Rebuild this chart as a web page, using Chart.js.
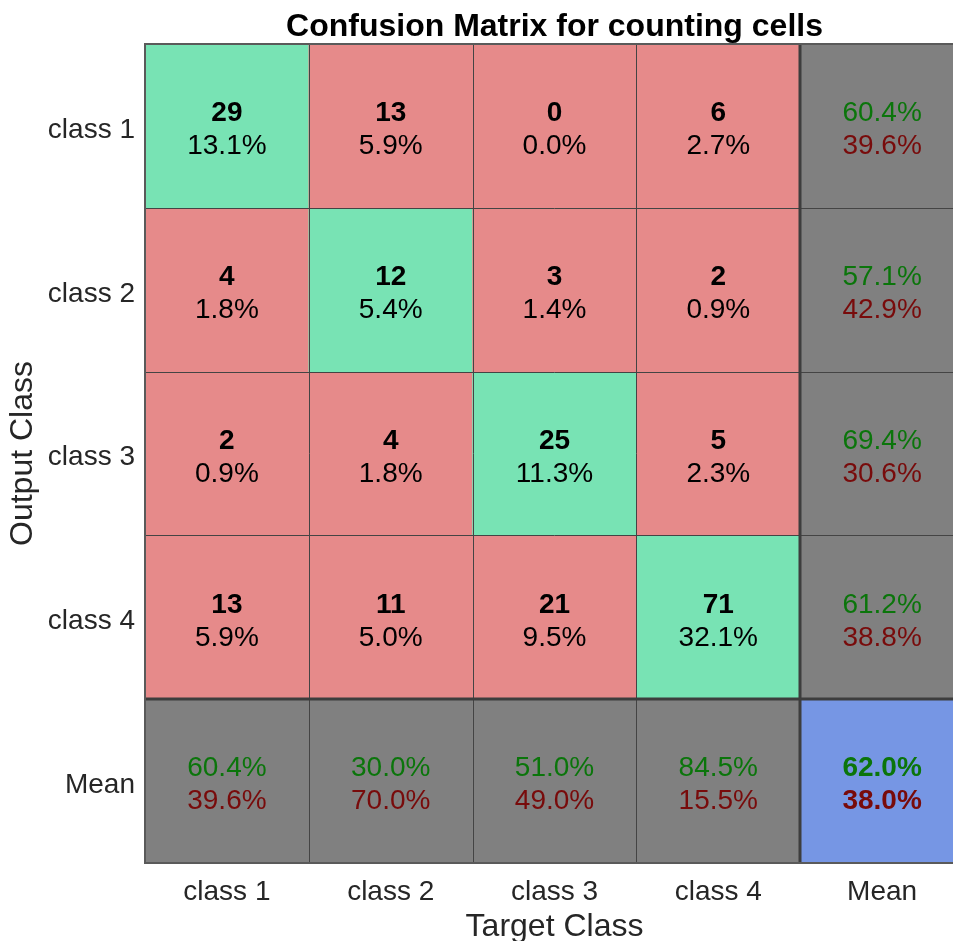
<!DOCTYPE html>
<html>
<head>
<meta charset="utf-8">
<script src="https://cdn.jsdelivr.net/npm/chart.js@4/dist/chart.umd.min.js"></script>
<style>
  html, body { margin: 0; padding: 0; background: #fff; overflow: hidden; }
  #wrap { width: 953px; height: 941px; overflow: hidden; position: relative; }
  canvas { display: block; }
</style>
</head>
<body>
<div id="wrap"><canvas id="c" width="985" height="941"></canvas></div>
<script>
// ---- data ----
const colLabels = ['class 1', 'class 2', 'class 3', 'class 4', 'Mean'];
const rowLabels = ['class 1', 'class 2', 'class 3', 'class 4', 'Mean'];
const counts = [
  [29, 13, 0, 6],
  [4, 12, 3, 2],
  [2, 4, 25, 5],
  [13, 11, 21, 71]
];
const cellPercents = [
  [13.1, 5.9, 0.0, 2.7],
  [1.8, 5.4, 1.4, 0.9],
  [0.9, 1.8, 11.3, 2.3],
  [5.9, 5.0, 9.5, 32.1]
];
const rowCorrect = [60.4, 57.1, 69.4, 61.2];
const rowWrong = [39.6, 42.9, 30.6, 38.8];
const colCorrect = [60.4, 30.0, 51.0, 84.5];
const colWrong = [39.6, 70.0, 49.0, 15.5];
const meanCorrect = [62.0];
const meanWrong = [38.0];

// ---- styles ----
const FONT = "'Liberation Sans', Arial, Helvetica, sans-serif";
const C_GREEN = '#78e3b4', C_RED = '#e68a8a', C_GRAY = '#808080', C_BLUE = '#7696e4';
const T_GOOD = '#0b750b', T_BAD = '#780b0b';
const n = colLabels.length;

function cellColor(r, c) {
  if (r === n - 1 && c === n - 1) return C_BLUE;
  if (r === n - 1 || c === n - 1) return C_GRAY;
  return r === c ? C_GREEN : C_RED;
}

const datasets = rowLabels.map((rl, r) => ({
  label: rl,
  data: colLabels.map(() => [r, r + 1]),
  backgroundColor: colLabels.map((_, c) => cellColor(r, c)),
  borderWidth: 0,
  categoryPercentage: 1,
  barPercentage: 1,
  grouped: false
}));

const overlay = {
  id: 'overlay',
  afterDatasetsDraw(chart) {
    const ctx = chart.ctx;
    const xs = chart.scales.x, ys = chart.scales.y;
    const ca = chart.chartArea;
    const colEdge = i => xs.getPixelForValue(i - 0.5);
    const rowEdge = i => ys.getPixelForValue(i);
    ctx.save();
    // grid lines
    ctx.strokeStyle = '#444444';
    ctx.lineWidth = 1;
    for (let i = 1; i < n; i++) {
      const x = Math.round(colEdge(i)) + 0.5;
      ctx.beginPath(); ctx.moveTo(x, ca.top); ctx.lineTo(x, ca.bottom); ctx.stroke();
      const y = Math.round(rowEdge(i)) + 0.5;
      ctx.beginPath(); ctx.moveTo(ca.left, y); ctx.lineTo(ca.right, y); ctx.stroke();
    }
    // thick separators for summary row / column
    ctx.strokeStyle = '#3d3d3d';
    ctx.lineWidth = 3;
    const xs4 = Math.round(colEdge(n - 1));
    ctx.beginPath(); ctx.moveTo(xs4, ca.top); ctx.lineTo(xs4, ca.bottom); ctx.stroke();
    const ys4 = Math.round(rowEdge(n - 1));
    ctx.beginPath(); ctx.moveTo(ca.left, ys4); ctx.lineTo(ca.right, ys4); ctx.stroke();
    // outer border
    ctx.strokeStyle = '#5a5a5a';
    ctx.lineWidth = 2;
    ctx.strokeRect(ca.left, ca.top, ca.right - ca.left, ca.bottom - ca.top);

    // texts
    ctx.textAlign = 'center';
    ctx.textBaseline = 'middle';
    const off = 16.5, shift = 4;
    for (let r = 0; r < n; r++) {
      for (let c = 0; c < n; c++) {
        const cx = xs.getPixelForValue(c);
        const cy = ys.getPixelForValue(r + 0.5) + shift;
        let l1, l2, col1, col2, bold1, bold2;
        if (r < n - 1 && c < n - 1) {
          l1 = String(counts[r][c]); l2 = cellPercents[r][c].toFixed(1) + '%';
          col1 = '#000'; col2 = '#000'; bold1 = true; bold2 = false;
        } else if (r < n - 1) {
          l1 = rowCorrect[r].toFixed(1) + '%'; l2 = rowWrong[r].toFixed(1) + '%';
          col1 = T_GOOD; col2 = T_BAD; bold1 = false; bold2 = false;
        } else if (c < n - 1) {
          l1 = colCorrect[c].toFixed(1) + '%'; l2 = colWrong[c].toFixed(1) + '%';
          col1 = T_GOOD; col2 = T_BAD; bold1 = false; bold2 = false;
        } else {
          l1 = meanCorrect[0].toFixed(1) + '%'; l2 = meanWrong[0].toFixed(1) + '%';
          col1 = T_GOOD; col2 = T_BAD; bold1 = true; bold2 = true;
        }
        ctx.font = (bold1 ? 'bold ' : '') + '28px ' + FONT;
        ctx.fillStyle = col1;
        ctx.fillText(l1, cx, cy - off);
        ctx.font = (bold2 ? 'bold ' : '') + '28px ' + FONT;
        ctx.fillStyle = col2;
        ctx.fillText(l2, cx, cy + off);
      }
    }
    ctx.restore();
  }
};

new Chart(document.getElementById('c'), {
  type: 'bar',
  data: { labels: colLabels, datasets },
  options: {
    responsive: false,
    animation: false,
    layout: { padding: { left: 0, right: 21, top: 0, bottom: 0 } },
    plugins: {
      legend: { display: false },
      tooltip: { enabled: false },
      title: {
        display: true,
        fullSize: false,
        text: 'Confusion Matrix for counting cells',
        color: '#000',
        font: { family: FONT, size: 32, weight: 'bold', lineHeight: 1.0 },
        padding: { top: 11, bottom: 1 }
      }
    },
    scales: {
      x: {
        type: 'category',
        offset: true,
        grid: { display: false, drawTicks: false },
        border: { display: false },
        ticks: { color: '#262626', font: { family: FONT, size: 28 }, padding: 12, maxRotation: 0 },
        title: { display: true, text: 'Target Class', color: '#262626', font: { family: FONT, size: 32, lineHeight: 0.85 }, padding: { top: 0, bottom: 0 } },
        afterFit(s) { s.height = 78; }
      },
      y: {
        type: 'linear',
        min: 0, max: 5,
        reverse: true,
        grid: { display: false, drawTicks: false },
        border: { display: false },
        afterBuildTicks(s) { s.ticks = rowLabels.map((_, i) => ({ value: i + 0.525 })); },
        ticks: {
          color: '#262626', font: { family: FONT, size: 28 }, padding: 10,
          callback: (v) => rowLabels[Math.floor(v)]
        },
        title: { display: true, text: 'Output Class', color: '#262626', font: { family: FONT, size: 32, lineHeight: 1.2 }, padding: { top: 4, bottom: 0 } },
        afterFit(s) { s.width = 145; }
      }
    }
  },
  plugins: [overlay]
});
</script>
</body>
</html>
